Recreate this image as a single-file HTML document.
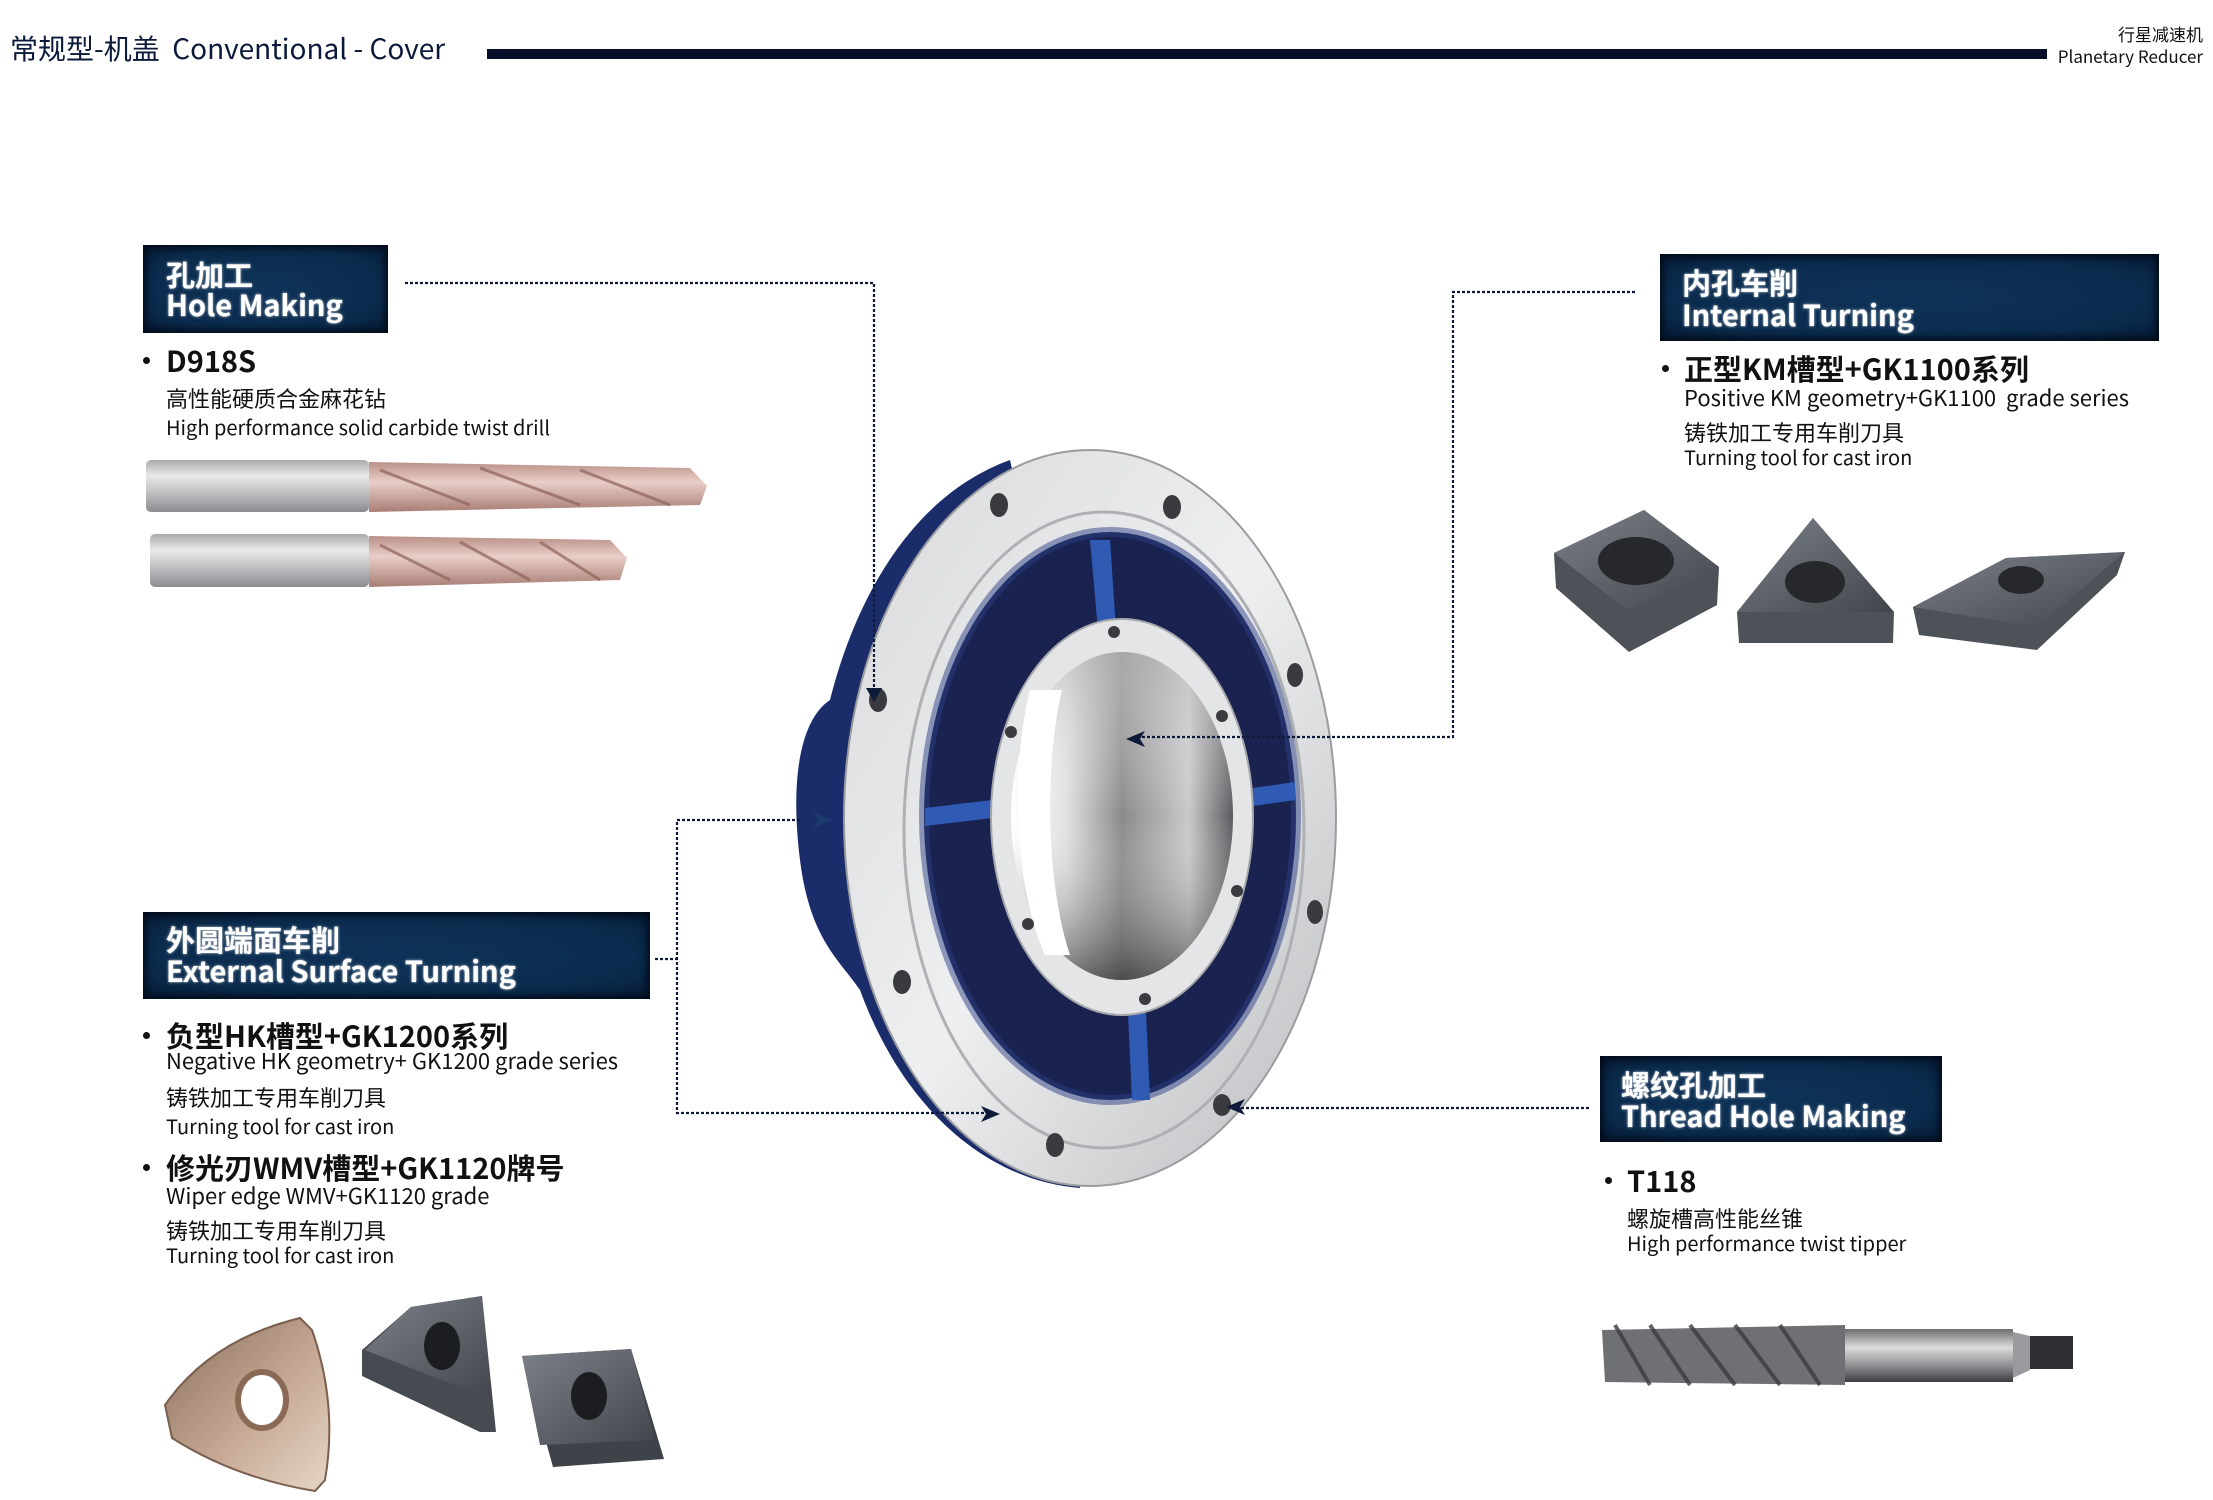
<!DOCTYPE html>
<html><head><meta charset="utf-8">
<style>
html,body{margin:0;padding:0;background:#fff;}
body{width:2213px;height:1500px;position:relative;overflow:hidden;font-family:"Noto Sans CJK SC","Liberation Sans",sans-serif;color:#111;}
.t{position:absolute;white-space:nowrap;line-height:1;}
.box{position:absolute;background:radial-gradient(ellipse at center,#0e3358 0%,#0b2b4d 70%,#061a33 100%);box-shadow:inset 0 0 8px 3px #020a18;}
.bt{position:absolute;color:#fff;font-weight:bold;font-size:29px;line-height:1;white-space:nowrap;text-shadow:0 0 3px #9ab,0 0 1px #fff;}
.h{font-size:29px;font-weight:bold;}
.s{font-size:22px;}
.dot{position:absolute;width:7px;height:7px;border-radius:50%;background:#111;}
</style></head><body>

<div class="t" style="left:10px;top:34px;font-size:28px;color:#0b1a3a;">常规型-机盖&nbsp; Conventional - Cover</div>
<div style="position:absolute;left:487px;top:49px;width:1560px;height:10px;background:#06102a;"></div>
<div class="t" style="right:10px;top:25px;font-size:17px;color:#111;">行星减速机</div>
<div class="t" style="right:10px;top:47px;font-size:17px;color:#111;">Planetary Reducer</div>

<svg width="2213" height="1500" style="position:absolute;left:0;top:0">
<defs>
<linearGradient id="silv" x1="0" y1="0" x2="1" y2="1"><stop offset="0" stop-color="#d8d9db"/><stop offset=".5" stop-color="#eeeff0"/><stop offset="1" stop-color="#b9bbbe"/></linearGradient>
<linearGradient id="bore" x1="0" y1="0" x2="1" y2="0"><stop offset="0" stop-color="#fff"/><stop offset=".25" stop-color="#e0e0e0"/><stop offset=".5" stop-color="#8a8a8c"/><stop offset=".8" stop-color="#c9c9cb"/><stop offset="1" stop-color="#5a5b5e"/></linearGradient>
<linearGradient id="bore2" x1="0" y1="0" x2="0" y2="1"><stop offset="0" stop-color="#bbb" stop-opacity=".6"/><stop offset=".5" stop-color="#fff" stop-opacity="0"/><stop offset="1" stop-color="#222" stop-opacity=".6"/></linearGradient>
<linearGradient id="shank" x1="0" y1="0" x2="0" y2="1"><stop offset="0" stop-color="#a8aaad"/><stop offset=".3" stop-color="#e8e9ea"/><stop offset=".6" stop-color="#c2c4c6"/><stop offset="1" stop-color="#8a8c8f"/></linearGradient>
<linearGradient id="cop" x1="0" y1="0" x2="0" y2="1"><stop offset="0" stop-color="#b98f86"/><stop offset=".4" stop-color="#e9cfc8"/><stop offset="1" stop-color="#a87d74"/></linearGradient>
<linearGradient id="ins" x1="0" y1="0" x2="1" y2="1"><stop offset="0" stop-color="#7c8088"/><stop offset="1" stop-color="#41454c"/></linearGradient>
<linearGradient id="tap" x1="0" y1="0" x2="0" y2="1"><stop offset="0" stop-color="#6c6d70"/><stop offset=".35" stop-color="#dcdcdc"/><stop offset=".7" stop-color="#8c8d90"/><stop offset="1" stop-color="#3e3f42"/></linearGradient>
<linearGradient id="tan" x1="0" y1="0" x2="1" y2="1"><stop offset="0" stop-color="#8a6e5e"/><stop offset=".6" stop-color="#c9ad98"/><stop offset="1" stop-color="#e6d6c8"/></linearGradient>
</defs>

<path d="M1010,460 C900,500 850,620 830,700 C800,720 790,780 800,860 C810,940 840,960 860,990 C900,1100 980,1180 1080,1188 L1090,820 Z" fill="#1b2c6b"/>
<ellipse cx="1090" cy="818" rx="246" ry="368" fill="url(#silv)"/>
<ellipse cx="1090" cy="818" rx="246" ry="368" fill="none" stroke="#9a9ca0" stroke-width="2"/>
<ellipse cx="1104" cy="830" rx="200" ry="318" fill="none" stroke="#aeb0b4" stroke-width="3"/>
<ellipse cx="1110" cy="816" rx="186" ry="284" fill="#1a2350"/>
<ellipse cx="1110" cy="816" rx="186" ry="284" fill="none" stroke="#2c3f86" stroke-width="10" opacity=".5"/>
<path d="M1090,540 L1110,540 L1116,630 L1098,630 Z" fill="#2f5bb5"/>
<path d="M925,808 L992,800 L992,818 L925,826 Z" fill="#2f5bb5"/>
<path d="M1253,788 L1295,782 L1295,800 L1253,806 Z" fill="#2f5bb5"/>
<path d="M1128,1012 L1146,1012 L1150,1100 L1132,1100 Z" fill="#2f5bb5"/>
<ellipse cx="1122" cy="817" rx="131" ry="198" fill="#e4e5e6"/>
<ellipse cx="1122" cy="817" rx="131" ry="198" fill="none" stroke="#a6a8ab" stroke-width="2"/>
<ellipse cx="1122" cy="816" rx="111" ry="164" fill="url(#bore)"/>
<ellipse cx="1122" cy="816" rx="111" ry="164" fill="url(#bore2)"/>
<path d="M1030,690 C1012,760 1012,880 1045,955 L1070,955 C1045,880 1045,760 1062,690 Z" fill="#fff"/>
<g fill="#3a3b3f">
<ellipse cx="999" cy="505" rx="9" ry="12"/><ellipse cx="1172" cy="507" rx="9" ry="12"/><ellipse cx="1295" cy="675" rx="8" ry="12"/><ellipse cx="1315" cy="912" rx="8" ry="12"/><ellipse cx="1222" cy="1105" rx="9" ry="11"/><ellipse cx="1055" cy="1145" rx="9" ry="12"/><ellipse cx="902" cy="982" rx="9" ry="12"/><ellipse cx="878" cy="700" rx="9" ry="12"/>
<circle cx="1114" cy="632" r="6"/><circle cx="1222" cy="716" r="6"/><circle cx="1237" cy="891" r="6"/><circle cx="1145" cy="999" r="6"/><circle cx="1028" cy="924" r="6"/><circle cx="1011" cy="732" r="6"/>
</g>

<g stroke="#0d1a3a" stroke-width="2.2" stroke-dasharray="3 2" fill="none">
<path d="M405,283 H874 V690"/>
<path d="M1635,292 H1453 V737 H1140"/>
<path d="M655,959 H677"/>
<path d="M800,820 H677 V1113 H985"/>
<path d="M1589,1108 H1240"/>
</g>
<g fill="#0d1a3a">
<path d="M866,688 L882,688 L874,702 Z"/>
<path d="M1126,739 L1145,731 L1140,739 L1145,747 Z"/>
<path d="M832,820 L813,812 L818,820 L813,828 Z" fill="#1c3b6b"/>
<path d="M1000,1114 L981,1106 L986,1114 L981,1122 Z"/>
<path d="M1226,1107 L1245,1099 L1240,1107 L1245,1115 Z"/>
</g>

<rect x="146" y="460" width="223" height="52" rx="5" fill="url(#shank)"/>
<path d="M369,462 L690,468 L707,486 L700,505 L369,512 Z" fill="url(#cop)"/>
<g stroke="#8d6258" stroke-width="3" fill="none" opacity=".7"><path d="M380,470 L470,505"/><path d="M480,468 L580,505"/><path d="M580,470 L670,505"/></g>
<rect x="150" y="534" width="219" height="53" rx="5" fill="url(#shank)"/>
<path d="M369,536 L610,540 L627,558 L620,580 L369,587 Z" fill="url(#cop)"/>
<g stroke="#8d6258" stroke-width="3" fill="none" opacity=".7"><path d="M380,545 L450,580"/><path d="M460,542 L530,580"/><path d="M540,542 L600,580"/></g>

<path d="M1554,553 L1644,510 L1719,567 L1717,605 L1629,652 L1556,588 Z" fill="#4d5158"/>
<path d="M1554,553 L1644,510 L1719,567 L1627,610 Z" fill="url(#ins)"/>
<ellipse cx="1636" cy="561" rx="38" ry="24" fill="#26282c"/>
<path d="M1813,518 L1894,612 L1893,643 L1739,643 L1737,612 Z" fill="#4d5158"/>
<path d="M1813,518 L1894,612 L1737,612 Z" fill="url(#ins)"/>
<ellipse cx="1815" cy="582" rx="30" ry="21" fill="#26282c"/>
<path d="M1913,607 L2006,558 L2125,552 L2117,575 L2037,650 L1919,635 Z" fill="#4d5158"/>
<path d="M1913,607 L2006,558 L2125,552 L2037,627 Z" fill="url(#ins)"/>
<ellipse cx="2021" cy="580" rx="23" ry="14" fill="#26282c"/>

<path d="M300,1318 L312,1330 Q338,1405 325,1480 L315,1491 Q235,1478 172,1438 L165,1405 Q210,1340 300,1318 Z" fill="url(#tan)" stroke="#7a5e4e" stroke-width="2"/>
<ellipse cx="262" cy="1400" rx="24" ry="28" fill="#fff" stroke="#8a6a55" stroke-width="6"/>
<path d="M482,1296 L496,1432 L480,1432 L362,1376 L362,1350 L411,1307 Z" fill="#464a51"/>
<path d="M482,1296 L492,1400 L365,1350 L411,1307 Z" fill="url(#ins)"/>
<ellipse cx="442" cy="1346" rx="18" ry="24" fill="#1b1d20"/>
<path d="M522,1356 L631,1349 L664,1459 L553,1467 Z" fill="#3e4249"/>
<path d="M522,1356 L631,1349 L655,1440 L540,1445 Z" fill="url(#ins)"/>
<ellipse cx="589" cy="1396" rx="18" ry="24" fill="#1b1d20"/>

<path d="M1602,1330 L1845,1325 L1845,1385 L1605,1382 Z" fill="#6f7074"/>
<g stroke="#3b3c3f" stroke-width="4" opacity=".8"><path d="M1615,1325 L1650,1385"/><path d="M1650,1325 L1690,1385"/><path d="M1690,1325 L1735,1385"/><path d="M1735,1325 L1780,1385"/><path d="M1780,1325 L1820,1385"/></g>
<rect x="1845" y="1329" width="168" height="53" fill="url(#tap)"/>
<path d="M2013,1332 L2030,1336 L2030,1370 L2013,1378 Z" fill="#9a9b9e"/>
<rect x="2030" y="1336" width="43" height="33" fill="#2e2f32"/>
</svg>

<div class="box" style="left:143px;top:245px;width:245px;height:88px;"></div>
<div class="bt" style="left:166px;top:260px;">孔加工</div>
<div class="bt" style="left:166px;top:290px;">Hole Making</div>

<div class="box" style="left:1660px;top:254px;width:499px;height:87px;"></div>
<div class="bt" style="left:1682px;top:268px;">内孔车削</div>
<div class="bt" style="left:1682px;top:300px;">Internal Turning</div>

<div class="box" style="left:143px;top:912px;width:507px;height:87px;"></div>
<div class="bt" style="left:166px;top:925px;">外圆端面车削</div>
<div class="bt" style="left:166px;top:956px;">External Surface Turning</div>

<div class="box" style="left:1600px;top:1056px;width:342px;height:86px;"></div>
<div class="bt" style="left:1621px;top:1070px;">螺纹孔加工</div>
<div class="bt" style="left:1621px;top:1101px;">Thread Hole Making</div>

<div class="dot" style="left:143px;top:357px;"></div>
<div class="t h" style="left:166px;top:346px;">D918S</div>
<div class="t s" style="left:166px;top:387px;">高性能硬质合金麻花钻</div>
<div class="t" style="left:166px;top:417px;font-size:20px;">High performance solid carbide twist drill</div>

<div class="dot" style="left:1662px;top:365px;"></div>
<div class="t h" style="left:1684px;top:354px;">正型KM槽型+GK1100系列</div>
<div class="t s" style="left:1684px;top:386px;">Positive KM geometry+GK1100&nbsp; grade series</div>
<div class="t s" style="left:1684px;top:421px;">铸铁加工专用车削刀具</div>
<div class="t" style="left:1684px;top:447px;font-size:20px;">Turning tool for cast iron</div>

<div class="dot" style="left:143px;top:1032px;"></div>
<div class="t h" style="left:166px;top:1021px;">负型HK槽型+GK1200系列</div>
<div class="t s" style="left:166px;top:1049px;">Negative HK geometry+ GK1200 grade series</div>
<div class="t s" style="left:166px;top:1086px;">铸铁加工专用车削刀具</div>
<div class="t" style="left:166px;top:1116px;font-size:20px;">Turning tool for cast iron</div>
<div class="dot" style="left:143px;top:1164px;"></div>
<div class="t h" style="left:166px;top:1153px;">修光刃WMV槽型+GK1120牌号</div>
<div class="t s" style="left:166px;top:1184px;">Wiper edge WMV+GK1120 grade</div>
<div class="t s" style="left:166px;top:1219px;">铸铁加工专用车削刀具</div>
<div class="t" style="left:166px;top:1245px;font-size:20px;">Turning tool for cast iron</div>

<div class="dot" style="left:1605px;top:1177px;"></div>
<div class="t h" style="left:1627px;top:1166px;">T118</div>
<div class="t s" style="left:1627px;top:1207px;">螺旋槽高性能丝锥</div>
<div class="t" style="left:1627px;top:1233px;font-size:20px;">High performance twist tipper</div>

</body></html>
